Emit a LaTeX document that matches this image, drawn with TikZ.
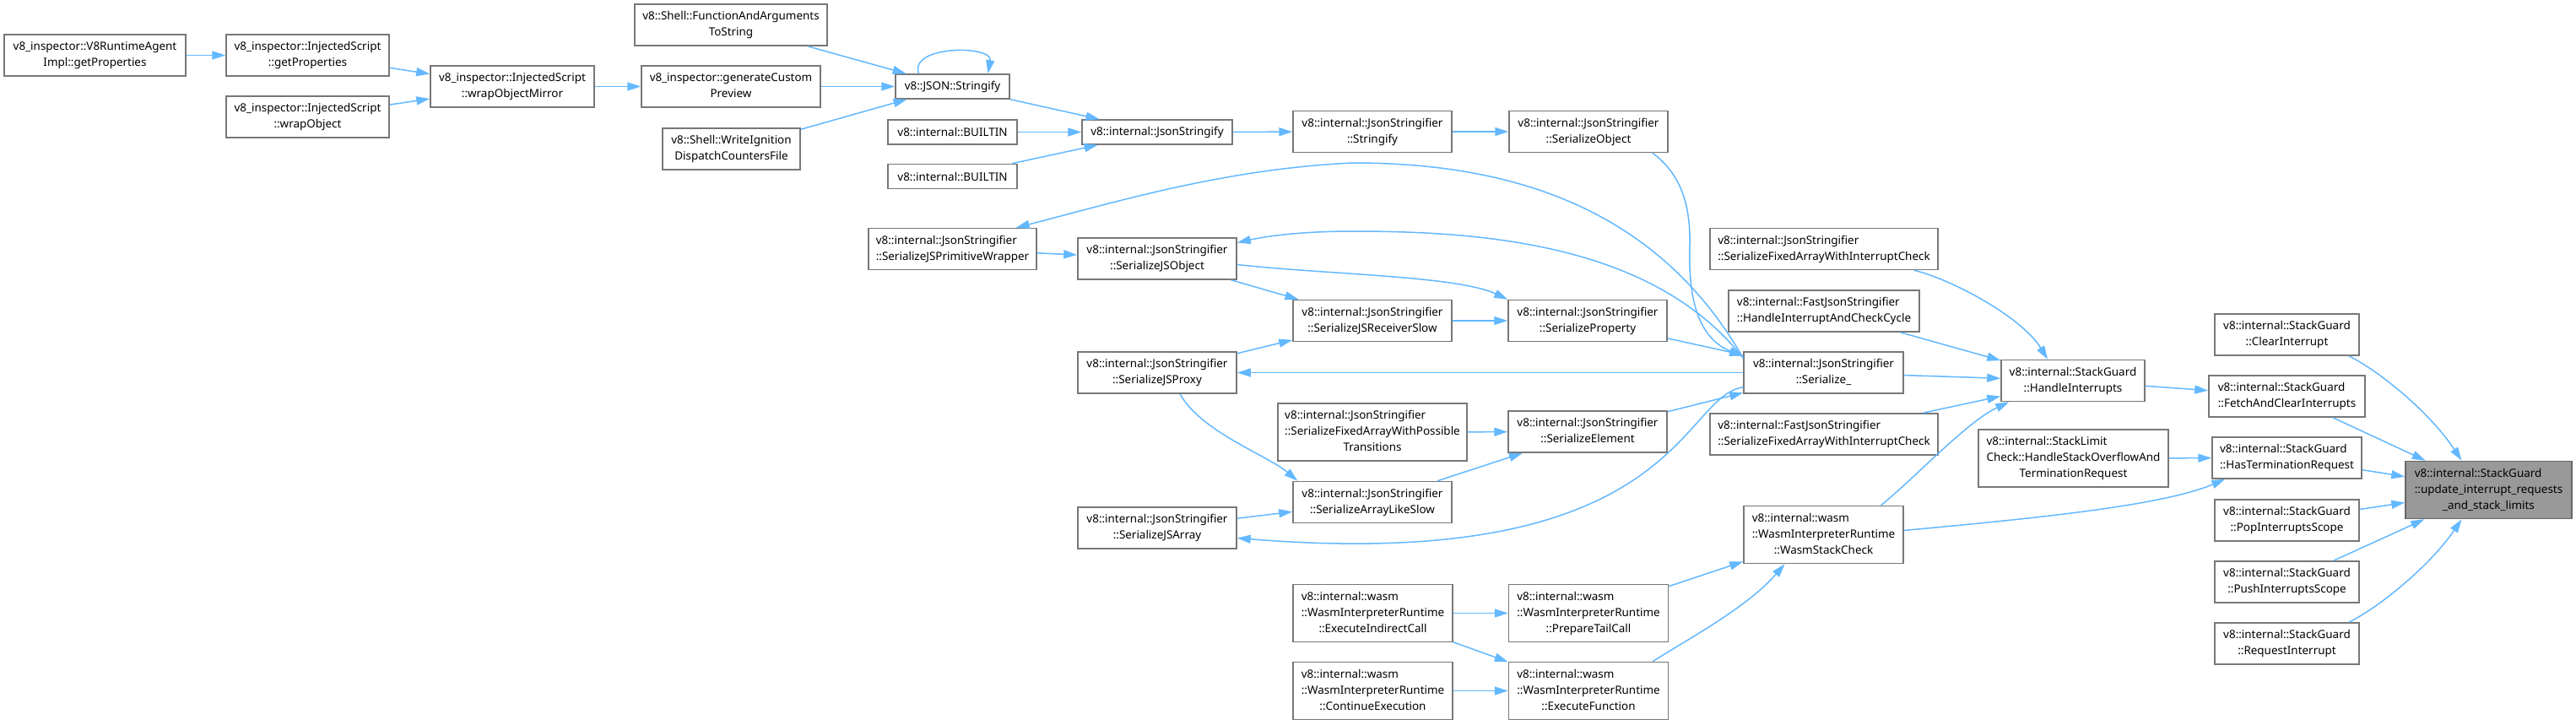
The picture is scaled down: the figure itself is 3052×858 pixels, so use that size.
\documentclass[tikz,border=0pt]{standalone}
\usepackage{fontspec}
\setmainfont{Noto Sans}
\usepackage{tikz}
\usetikzlibrary{arrows.meta}
\definecolor{dboxline}{HTML}{777777}
\definecolor{dfocusfill}{HTML}{999999}
\definecolor{dfocusline}{HTML}{666666}
\definecolor{dedgeline}{HTML}{63B8FF}
\newcommand{\dlines}[2]{\begin{tabular}{@{}l@{}}#1\\\multicolumn{1}{@{}c@{}}{#2}\end{tabular}}
\tikzset{dbox/.style={rectangle, draw=dboxline, fill=white, line width=0.75pt, inner sep=0pt, minimum height=24.5pt, align=center, font=\fontsize{6.72pt}{9.5pt}\selectfont}}
\tikzset{dline/.style={dbox, minimum height=14.5pt}}
\tikzset{dtri/.style={dbox, minimum height=34pt}}
\tikzset{dfocus/.style={dtri, draw=dfocusline, fill=dfocusfill}}
\tikzset{bw/.style={minimum width=#1*0.5pt}}
\tikzset{dedge/.style={-{Triangle[length=8pt, width=5pt]}, draw=dedgeline, line width=0.75pt}}
\begin{document}
\begin{tikzpicture}[x=0.5pt, y=-0.5pt]
  \fill[white] (0,0) rectangle (3052,858);

  % v8_inspector callers
  \node[dbox, bw=215] (rtagent) at (112.5,65.5) {\dlines{v8\_inspector::V8RuntimeAgent}{Impl::getProperties}};
  \node[dbox, bw=193] (isgetprops) at (364.5,65.5) {\dlines{v8\_inspector::InjectedScript}{::getProperties}};
  \node[dbox, bw=193] (iswrapobj) at (364.5,138.5) {\dlines{v8\_inspector::InjectedScript}{::wrapObject}};
  \node[dbox, bw=194] (wrapmirror) at (607,102.5) {\dlines{v8\_inspector::InjectedScript}{::wrapObjectMirror}};
  \node[dbox, bw=212] (custompreview) at (866,102.5) {\dlines{v8\_inspector::generateCustom}{Preview}};
  \node[dbox, bw=228] (funcargs) at (866,29.5) {\dlines{v8::Shell::FunctionAndArguments}{ToString}};
  \node[dbox, bw=163] (writeignition) at (866.5,176.5) {\dlines{v8::Shell::WriteIgnition}{DispatchCountersFile}};

  \node[dline, bw=135] (jsonstringify8) at (1128.5,102.5) {v8::JSON::Stringify};
  \node[dline, bw=153] (builtina) at (1128.5,156.5) {v8::internal::BUILTIN};
  \node[dline, bw=153] (builtinb) at (1128.5,209) {v8::internal::BUILTIN};
  \node[dline, bw=178] (jsonstringify) at (1371,156.5) {v8::internal::JsonStringify};
  \node[dbox, bw=188] (stringify) at (1626,156) {\dlines{v8::internal::JsonStringifier}{::Stringify}};
  \node[dbox, bw=188] (serobject) at (1882,156) {\dlines{v8::internal::JsonStringifier}{::SerializeObject}};

  % JsonStringifier internals
  \node[dbox, bw=199] (serprimwrap) at (1128.5,295) {\dlines{v8::internal::JsonStringifier}{::SerializeJSPrimitiveWrapper}};
  \node[dbox, bw=188] (serjsobject) at (1371,306.5) {\dlines{v8::internal::JsonStringifier}{::SerializeJSObject}};
  \node[dbox, bw=188] (serrecvslow) at (1626,380) {\dlines{v8::internal::JsonStringifier}{::SerializeJSReceiverSlow}};
  \node[dbox, bw=188] (serprop) at (1881,380) {\dlines{v8::internal::JsonStringifier}{::SerializeProperty}};
  \node[dbox, bw=188] (serproxy) at (1371,441.5) {\dlines{v8::internal::JsonStringifier}{::SerializeJSProxy}};
  \node[dbox, bw=189] (serialize) at (2160.5,441.5) {\dlines{v8::internal::JsonStringifier}{::Serialize\_}};
  \node[dtri, bw=224] (serfixedtrans) at (1626,512) {\dlines{v8::internal::JsonStringifier\\::SerializeFixedArrayWithPossible}{Transitions}};
  \node[dbox, bw=188] (serelement) at (1881,511.5) {\dlines{v8::internal::JsonStringifier}{::SerializeElement}};
  \node[dbox, bw=188] (serarraylike) at (1626,595) {\dlines{v8::internal::JsonStringifier}{::SerializeArrayLikeSlow}};
  \node[dbox, bw=188] (serjsarray) at (1371,625.5) {\dlines{v8::internal::JsonStringifier}{::SerializeJSArray}};

  \node[dbox, bw=270] (serfixedic) at (2161,295) {\dlines{v8::internal::JsonStringifier}{::SerializeFixedArrayWithInterruptCheck}};
  \node[dbox, bw=226] (fastcycle) at (2161,368.5) {\dlines{v8::internal::FastJsonStringifier}{::HandleInterruptAndCheckCycle}};
  \node[dbox, bw=270] (fastfixedic) at (2161,514.5) {\dlines{v8::internal::FastJsonStringifier}{::SerializeFixedArrayWithInterruptCheck}};

  % wasm interpreter
  \node[dtri, bw=189] (wasmcheck) at (2160.5,633.5) {\dlines{v8::internal::wasm\\::WasmInterpreterRuntime}{::WasmStackCheck}};
  \node[dtri, bw=189] (execindirect) at (1626.5,726.5) {\dlines{v8::internal::wasm\\::WasmInterpreterRuntime}{::ExecuteIndirectCall}};
  \node[dtri, bw=189] (preparetail) at (1882,726.5) {\dlines{v8::internal::wasm\\::WasmInterpreterRuntime}{::PrepareTailCall}};
  \node[dtri, bw=189] (contexec) at (1626.5,818.5) {\dlines{v8::internal::wasm\\::WasmInterpreterRuntime}{::ContinueExecution}};
  \node[dtri, bw=189] (execfunc) at (1882,818.5) {\dlines{v8::internal::wasm\\::WasmInterpreterRuntime}{::ExecuteFunction}};

  % StackGuard
  \node[dbox, bw=170] (handleint) at (2456,451) {\dlines{v8::internal::StackGuard}{::HandleInterrupts}};
  \node[dtri, bw=225] (stacklimit) at (2456.5,543) {\dlines{v8::internal::StackLimit\\Check::HandleStackOverflowAnd}{TerminationRequest}};
  \node[dbox, bw=171] (clearint) at (2709.5,396.5) {\dlines{v8::internal::StackGuard}{::ClearInterrupt}};
  \node[dbox, bw=185] (fetchclear) at (2709.5,469.5) {\dlines{v8::internal::StackGuard}{::FetchAndClearInterrupts}};
  \node[dbox, bw=177] (hasterm) at (2709.5,542.5) {\dlines{v8::internal::StackGuard}{::HasTerminationRequest}};
  \node[dbox, bw=171] (popscope) at (2709.5,616.5) {\dlines{v8::internal::StackGuard}{::PopInterruptsScope}};
  \node[dbox, bw=171] (pushscope) at (2709.5,689.5) {\dlines{v8::internal::StackGuard}{::PushInterruptsScope}};
  \node[dbox, bw=171] (requestint) at (2709.5,762.5) {\dlines{v8::internal::StackGuard}{::RequestInterrupt}};
  \node[dfocus, bw=197] (updatelimits) at (2948.5,580.5) {\dlines{v8::internal::StackGuard\\::update\_interrupt\_requests}{\_and\_stack\_limits}};

  % edges
  \draw[dedge] (rtagent) -- (isgetprops);
  \draw[dedge] (isgetprops) -- (wrapmirror);
  \draw[dedge] (iswrapobj) -- (wrapmirror);
  \draw[dedge] (wrapmirror) -- (custompreview);
  \draw[dedge] (custompreview) -- (jsonstringify8);
  \draw[dedge] (funcargs) -- (jsonstringify8);
  \draw[dedge] (writeignition) -- (jsonstringify8);
  \draw[dedge] ([xshift=-20pt]jsonstringify8.north) .. controls +(-12,-34) and +(6,-34) .. ([xshift=21pt]jsonstringify8.north);
  \draw[dedge] (jsonstringify8) -- (jsonstringify);
  \draw[dedge] (builtina) -- (jsonstringify);
  \draw[dedge] (builtinb) -- (jsonstringify);
  \draw[dedge] (jsonstringify) -- (stringify);
  \draw[dedge] (stringify) -- (serobject);

  \draw[dedge] ([xshift=-9.5pt]serobject.south east) .. controls (1990,205) and (2003,240) .. (2002,290) .. controls (2000,350) and (2010,400) .. ([shift={(0,6)}]serialize.north west);
  \draw[dedge] ([shift={(0,8)}]serialize.north west) .. controls (1960,240) and (1780,193) .. (1603,193) .. controls (1450,200) and (1320,240) .. ([xshift=-12.5pt]serprimwrap.north east);
  \draw[dedge] ([shift={(0,8)}]serialize.north west) .. controls (1960,290) and (1760,274) .. (1603,274) .. controls (1540,274) and (1500,280) .. ([shift={(0,-19)}]serjsobject.east);
  \draw[dedge] (serprimwrap) -- (serjsobject);
  \draw[dedge] (serjsobject) -- (serrecvslow);
  \draw[dedge] ([shift={(0,7)}]serjsobject.east) .. controls +(110,12) and +(-60,-28) .. (serprop.north west);
  \draw[dedge] (serrecvslow) -- (serprop);
  \draw[dedge] (serprop) -- (serialize);
  \draw[dedge] (serialize) -- (serproxy);
  \draw[dedge] (serproxy) -- (serrecvslow);
  \draw[dedge] ([xshift=13.5pt]serproxy.south) .. controls +(25,45) and +(-35,-30) .. ([shift={(6,0)}]serarraylike.north west);
  \draw[dedge] (serfixedtrans) -- (serelement);
  \draw[dedge] (serarraylike) -- (serelement);
  \draw[dedge] (serelement) -- (serialize);
  \draw[dedge] (serjsarray) -- (serarraylike);
  \draw[dedge] ([shift={(0,-8)}]serialize.south west) .. controls (1990,470) and (1990,680) .. ([shift={(0,12)}]serjsarray.east);

  \draw[dedge] (serialize) -- (handleint);
  \draw[dedge] ([xshift=-14.5pt]serfixedic.south east) .. controls (2310,330) and (2395,375) .. ([xshift=-15pt]handleint.north);
  \draw[dedge] (fastcycle) -- (handleint);
  \draw[dedge] (fastfixedic) -- (handleint);
  \draw[dedge] ([xshift=34pt]wasmcheck.north) .. controls (2270,565) and (2330,500) .. ([xshift=5pt]handleint.south west);
  \draw[dedge] ([shift={(0,-5)}]wasmcheck.east) .. controls (2400,615) and (2560,600) .. ([xshift=8pt]hasterm.south west);
  \draw[dedge] (preparetail) -- (wasmcheck);
  \draw[dedge] ([xshift=38pt]execfunc.north) .. controls (1995,760) and (2070,720) .. ([xshift=-23pt]wasmcheck.south);
  \draw[dedge] (execindirect) -- (preparetail);
  \draw[dedge] (execindirect) -- (execfunc);
  \draw[dedge] (contexec) -- (execfunc);

  \draw[dedge] (handleint) -- (fetchclear);
  \draw[dedge] (stacklimit) -- (hasterm);
  \draw[dedge] ([xshift=-6.5pt]clearint.south east) .. controls (2820,440) and (2880,490) .. ([xshift=-16pt]updatelimits.north);
  \draw[dedge] (fetchclear) -- (updatelimits);
  \draw[dedge] (hasterm) -- (updatelimits);
  \draw[dedge] (popscope) -- (updatelimits);
  \draw[dedge] (pushscope) -- (updatelimits);
  \draw[dedge] ([xshift=-6.5pt]requestint.north east) .. controls (2820,719) and (2880,669) .. ([xshift=-16pt]updatelimits.south);
\end{tikzpicture}
\end{document}
